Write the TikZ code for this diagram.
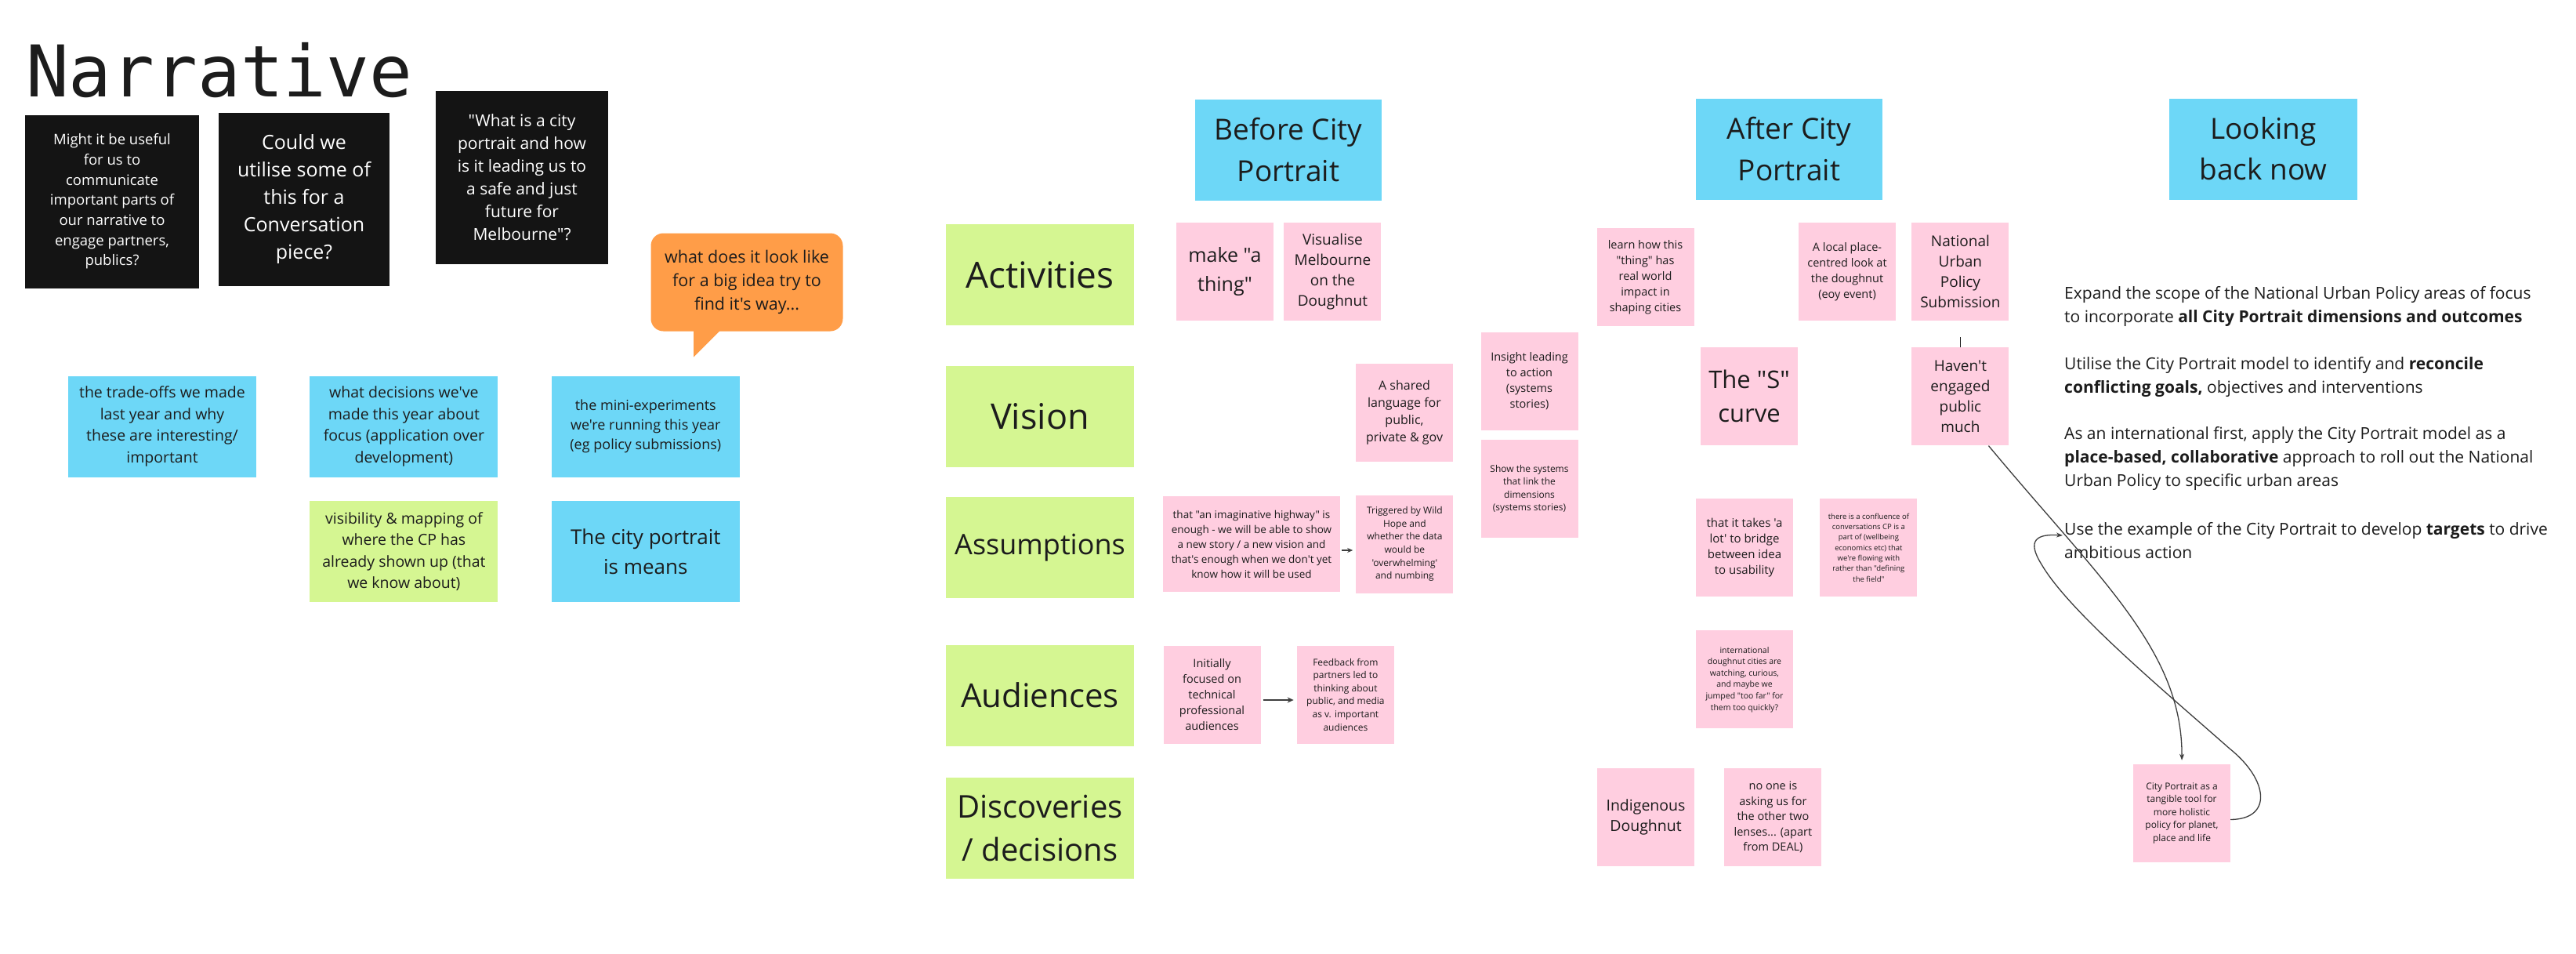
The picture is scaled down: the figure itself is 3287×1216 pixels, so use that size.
\documentclass[tikz,border=0pt]{standalone}
\usepackage{fontspec}
\setmainfont{Open Sans}[Ligatures=TeXOff]
\newfontfamily\narrfont{DejaVu Sans Mono}
\usetikzlibrary{arrows.meta,positioning,backgrounds}
\definecolor{ink}{HTML}{1C1C1C}
\definecolor{stickyblue}{HTML}{6DD7F7}
\definecolor{stickygreen}{HTML}{D5F692}
\definecolor{stickypink}{HTML}{FFCEE0}
\definecolor{stickydark}{HTML}{141414}
\definecolor{bubbleorange}{HTML}{FF9D48}
\newcommand\nsize[2]{\fontsize{#1pt}{#2pt}\selectfont}
\tikzset{
  sticky/.style={rectangle,inner sep=3pt,align=center,text=ink,
    minimum width=124pt,minimum height=125pt},
  pinknote/.style={sticky,fill=stickypink},
  bluenote/.style={sticky,fill=stickyblue,minimum width=240pt,minimum height=129pt},
  greennote/.style={sticky,fill=stickygreen,minimum width=240pt,minimum height=129pt},
  darknote/.style={sticky,fill=stickydark,text=white,minimum width=220pt,minimum height=221pt},
  bubble/.style={rectangle,rounded corners=16pt,fill=bubbleorange,text=ink,align=center,
    minimum width=245pt,minimum height=125pt},
  lookpara/.style={anchor=west,align=left,inner sep=0pt,text=ink,font=\nsize{21}{30}},
  link/.style={draw=ink!85,line width=1.3pt,-{Stealth[length=8pt,width=6pt]}},
}

\begin{document}
\begin{tikzpicture}[x=1pt,y=-1pt]
  \useasboundingbox[fill=white] (0,0) rectangle (3287,1216);

  \node[anchor=base west,inner sep=0pt,text=ink,font=\narrfont\nsize{91}{91}] (title) at (33,123) {Narrative};

  \node[darknote,minimum width=222pt,font=\nsize{18.5}{25.7}] (useful) at (143,257)
    {Might it be useful\\for us to\\communicate\\important parts of\\our narrative to\\engage partners,\\publics?};
  \node[darknote,minimum width=218pt,font=\nsize{25}{35}] (convo) at (388,254)
    {Could we\\utilise some of\\this for a\\Conversation\\piece?};
  \node[darknote,font=\nsize{21}{29}] (whatis) at (666,226)
    {"What is a city\\portrait and how\\is it leading us to\\a safe and just\\future for\\Melbourne"?};

  \node[bubble,font=\nsize{21.5}{30}] (call) at (953,360)
    {what does it look like\\for a big idea try to\\find it's way...};
  \fill[bubbleorange] ([xshift=-68pt,yshift=2pt]call.south) -- ([xshift=-68pt,yshift=-33pt]call.south)
    -- ([xshift=-33pt,yshift=2pt]call.south) -- cycle;

  \node[bluenote,font=\nsize{19.5}{27.5}] (tradeoffs) at (207,544)
    {the trade-offs we made\\last year and why\\these are interesting/\\important};
  \node[bluenote,font=\nsize{19.5}{27.5},right=68pt of tradeoffs] (decisions)
    {what decisions we've\\made this year about\\focus (application over\\development)};
  \node[bluenote,font=\nsize{18}{25},right=68pt of decisions] (miniexp)
    {the mini-experiments\\we're running this year\\(eg policy submissions)};
  \node[greennote,font=\nsize{19.5}{27.5},below=30pt of decisions] (visibility)
    {visibility \& mapping of\\where the CP has\\already shown up (that\\we know about)};
  \node[bluenote,font=\nsize{26}{38},below=30pt of miniexp] (means)
    {The city portrait\\is means};

  \node[bluenote,minimum width=238pt,font=\nsize{37}{53}] (before) at (1644,191) {Before City\\Portrait};
  \node[bluenote,minimum width=238pt,font=\nsize{37}{53}] (after) at (2283,190) {After City\\Portrait};
  \node[bluenote,font=\nsize{37}{52}] (looking) at (2888,190) {Looking\\back now};

  \node[greennote,font=\nsize{46}{60}] (activities) at (1327,350.5) {Activities};
  \node[greennote,font=\nsize{45}{60}] (vision) at (1327,531.5) {Vision};
  \node[greennote,font=\nsize{36}{50}] (assumptions) at (1327,698.5) {Assumptions};
  \node[greennote,font=\nsize{42}{56}] (audiences) at (1327,887) {Audiences};
  \node[greennote,font=\nsize{40}{55}] (discoveries) at (1327,1056.5) {Discoveries\\/ decisions};

  \node[pinknote,font=\nsize{25}{37}] (makething) at (1563,346.5) {make "a\\thing"};
  \node[pinknote,font=\nsize{19}{26},right=13pt of makething] (visualise)
    {Visualise\\Melbourne\\on the\\Doughnut};
  \node[pinknote,font=\nsize{16}{22}] (shared) at (1792,526.5)
    {A shared\\language for\\public,\\private \& gov};
  \node[pinknote,minimum width=226pt,minimum height=122pt,font=\nsize{13.5}{19}] (highway) at (1597,694)
    {that "an imaginative highway" is\\enough - we will be able to show\\a new story / a new vision and\\that's enough when we don't yet\\know how it will be used};
  \node[pinknote,font=\nsize{12}{16.7},right=20pt of highway] (triggered)
    {Triggered by Wild\\Hope and\\whether the data\\would be\\'overwhelming'\\and numbing};
  \node[pinknote,font=\nsize{14.5}{20}] (initially) at (1546.5,886)
    {Initially\\focused on\\technical\\professional\\audiences};
  \node[pinknote,font=\nsize{12}{16.6},right=46pt of initially] (feedback)
    {Feedback from\\partners led to\\thinking about\\public, and media\\as v. important\\audiences};

  \node[pinknote,font=\nsize{14.5}{20}] (insight) at (1951.5,486.5)
    {Insight leading\\to action\\(systems\\stories)};
  \node[pinknote,font=\nsize{12}{16.6},below=12pt of insight] (showsys)
    {Show the systems\\that link the\\dimensions\\(systems stories)};
  \node[pinknote,font=\nsize{14.5}{20}] (learn) at (2099.5,353.5)
    {learn how this\\"thing" has\\real world\\impact in\\shaping cities};
  \node[pinknote,font=\nsize{14.5}{20}] (localplace) at (2357,346.5)
    {A local place-\\centred look at\\the doughnut\\(eoy event)};
  \node[pinknote,font=\nsize{19}{26},right=20pt of localplace] (national)
    {National\\Urban\\Policy\\Submission};
  \node[pinknote,font=\nsize{31}{43}] (scurve) at (2232,505.5) {The "S"\\curve};
  \node[pinknote,font=\nsize{19}{26},below=34pt of national] (haven)
    {Haven't\\engaged\\public\\much};
  \node[pinknote,font=\nsize{15}{20}] (bridge) at (2226,698.5)
    {that it takes 'a\\lot' to bridge\\between idea\\to usability};
  \node[pinknote,font=\nsize{9.5}{13.3},right=34pt of bridge] (confluence)
    {there is a confluence of\\conversations CP is a\\part of (wellbeing\\economics etc) that\\we're flowing with\\rather than "defining\\the field"};
  \node[pinknote,font=\nsize{10.5}{14.6},below=43pt of bridge] (intl)
    {international\\doughnut cities are\\watching, curious,\\and maybe we\\jumped "too far" for\\them too quickly?};
  \node[pinknote,font=\nsize{19.5}{26}] (indigenous) at (2100,1042.5) {Indigenous\\Doughnut};
  \node[pinknote,font=\nsize{14.5}{19.6},right=38pt of indigenous] (noone)
    {no one is\\asking us for\\the other two\\lenses... (apart\\from DEAL)};
  \node[pinknote,font=\nsize{12}{16.5}] (tangible) at (2784,1037.5)
    {City Portrait as a\\tangible tool for\\more holistic\\policy for planet,\\place and life};

  \node[lookpara] (expand) at (2634,391)
    {Expand the scope of the National Urban Policy areas of focus\\to incorporate \textbf{all City Portrait dimensions and outcomes}};
  \node[lookpara] (utilise) at (2634,480.5)
    {Utilise the City Portrait model to identify and \textbf{reconcile}\\\textbf{conflicting goals,} objectives and interventions};
  \node[lookpara] (intlfirst) at (2634,585)
    {As an international first, apply the City Portrait model as a\\\textbf{place-based, collaborative} approach to roll out the National\\Urban Policy to specific urban areas};
  \node[lookpara] (targets) at (2634,690)
    {Use the example of the City Portrait to develop \textbf{targets} to drive\\ambitious action};

  \begin{scope}[on background layer]
    \foreach \n in {useful,convo,whatis,tradeoffs,decisions,miniexp,visibility,means,
      before,after,looking,activities,vision,assumptions,audiences,discoveries,
      makething,visualise,shared,highway,triggered,initially,feedback,insight,showsys,
      learn,localplace,national,scurve,haven,bridge,confluence,intl,indigenous,noone,tangible}
      \shade[top color=black!45,bottom color=white]
        ([xshift=7pt]\n.south west) rectangle ([xshift=-5pt,yshift=-15pt]\n.south east);
  \end{scope}

  \draw[link,-{Stealth[length=7pt,width=6pt]},shorten <=2pt,shorten >=4pt]
    ([yshift=-8pt]highway.east) -- ([yshift=-8pt]triggered.west);
  \draw[link,-{Stealth[length=8pt,width=7pt]},shorten <=3pt,shorten >=4pt]
    ([yshift=-7pt]initially.east) -- ([yshift=-7pt]feedback.west);
  \draw[draw=ink,line width=1.2pt,shorten <=21pt] (national.south) -- (haven.north);
  \draw[link,shorten >=5pt] ([xshift=36pt]haven.south) .. controls (2680,740) and (2785,830) .. (tangible.north);
  \draw[link] ([yshift=-8pt]tangible.east) .. controls (2900,1045) and (2895,995) .. (2845,955)
    .. controls (2760,880) and (2640,780) .. (2605,720)
    .. controls (2585,688) and (2600,681) .. ([xshift=-2pt,yshift=7pt]targets.west);
\end{tikzpicture}
\end{document}
